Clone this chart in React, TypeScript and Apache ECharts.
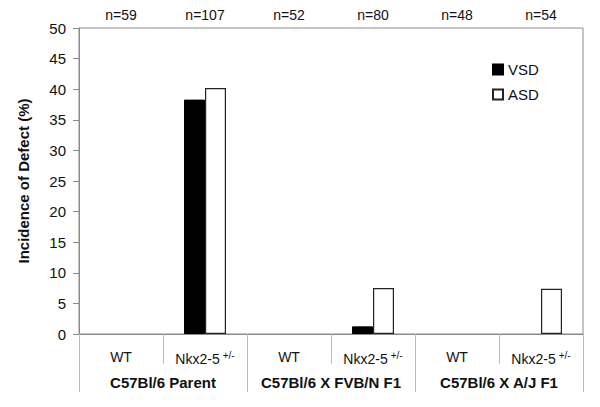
import React, { useEffect, useRef } from "react";
import * as echarts from "echarts";

const categories = ["WT", "Nkx2-5", "WT", "Nkx2-5", "WT", "Nkx2-5"];
const groups = ["C57Bl/6 Parent", "C57Bl/6 X FVB/N F1", "C57Bl/6 X A/J F1"];
const sampleSizes = ["n=59", "n=107", "n=52", "n=80", "n=48", "n=54"];
const vsdValues = [0, 38.3, 0, 1.25, 0, 0];
const asdValues = [0, 40.2, 0, 7.5, 0, 7.4];

const FONT = "'Liberation Sans', Arial, sans-serif";
const AXIS_GRAY = "#8a8a8a";

export default function App() {
  const ref = useRef<HTMLDivElement>(null);

  useEffect(() => {
    if (!ref.current) return;
    const chart = echarts.init(ref.current, null, { renderer: "svg" });
    const toBar = (v: number) => (v === 0 ? "-" : v);
    chart.setOption({
      animation: false,
      backgroundColor: "#ffffff",
      textStyle: { fontFamily: FONT, color: "#111" },
      grid: {
        left: 79,
        right: 17,
        top: 28,
        bottom: 73,
        show: true,
        borderColor: AXIS_GRAY,
        borderWidth: 1,
        backgroundColor: "transparent",
      },
      legend: {
        orient: "vertical",
        left: 492,
        top: 62,
        itemWidth: 10,
        itemHeight: 10,
        itemGap: 10,
        padding: 0,
        icon: "rect",
        textStyle: { fontFamily: FONT, fontSize: 15, color: "#111" },
        data: ["VSD", "ASD"],
      },
      xAxis: [
        {
          type: "category",
          data: categories,
          position: "bottom",
          axisLine: { show: true, lineStyle: { color: AXIS_GRAY, width: 1 } },
          axisTick: { show: true, length: 30, lineStyle: { color: "#bbbbbb" } },
          axisLabel: {
            interval: 0,
            margin: 16,
            fontFamily: FONT,
            fontSize: 14,
            color: "#111",
            formatter: (v: string) =>
              v === "WT" ? "{a|WT}" : "{a|" + v + "}{sup|+/-}",
            rich: {
              a: { fontFamily: FONT, fontSize: 14, color: "#111" },
              sup: {
                fontFamily: FONT,
                fontSize: 10,
                color: "#111",
                padding: [0, 0, 8, 3],
              },
            },
          },
          splitLine: { show: false },
        },
        {
          type: "category",
          data: groups,
          position: "bottom",
          offset: 0,
          axisLine: { show: false },
          axisTick: { show: true, length: 58, lineStyle: { color: "#bbbbbb" } },
          axisLabel: {
            interval: 0,
            margin: 41,
            fontFamily: FONT,
            fontSize: 15,
            fontWeight: "bold",
            color: "#111",
          },
          splitLine: { show: false },
        },
        {
          type: "category",
          data: sampleSizes,
          position: "top",
          axisLine: { show: false },
          axisTick: { show: false },
          axisLabel: {
            interval: 0,
            margin: 6,
            fontFamily: FONT,
            fontSize: 14,
            color: "#111",
          },
          splitLine: { show: false },
        },
      ],
      yAxis: {
        type: "value",
        min: 0,
        max: 50,
        interval: 5,
        name: "Incidence of Defect (%)",
        nameLocation: "middle",
        nameGap: 48,
        nameRotate: 90,
        nameTextStyle: {
          fontFamily: FONT,
          fontSize: 15,
          fontWeight: "bold",
          color: "#111",
        },
        axisLine: { show: true, lineStyle: { color: AXIS_GRAY, width: 1 } },
        axisTick: { show: true, length: 6, lineStyle: { color: AXIS_GRAY } },
        axisLabel: { margin: 13, fontFamily: FONT, fontSize: 15, color: "#111" },
        splitLine: { show: false },
      },
      series: [
        {
          name: "VSD",
          type: "bar",
          xAxisIndex: 0,
          data: vsdValues.map(toBar),
          barWidth: 21,
          barGap: "0%",
          itemStyle: { color: "#000000", borderColor: "#000000", borderWidth: 1 },
        },
        {
          name: "ASD",
          type: "bar",
          xAxisIndex: 0,
          data: asdValues.map(toBar),
          barWidth: 21,
          barGap: "0%",
          itemStyle: { color: "#ffffff", borderColor: "#222222", borderWidth: 1.2 },
        },
      ],
    });
    return () => chart.dispose();
  }, []);

  return (
    <div
      ref={ref}
      style={{ position: "fixed", left: 0, top: 0, width: 600, height: 407 }}
    />
  );
}
